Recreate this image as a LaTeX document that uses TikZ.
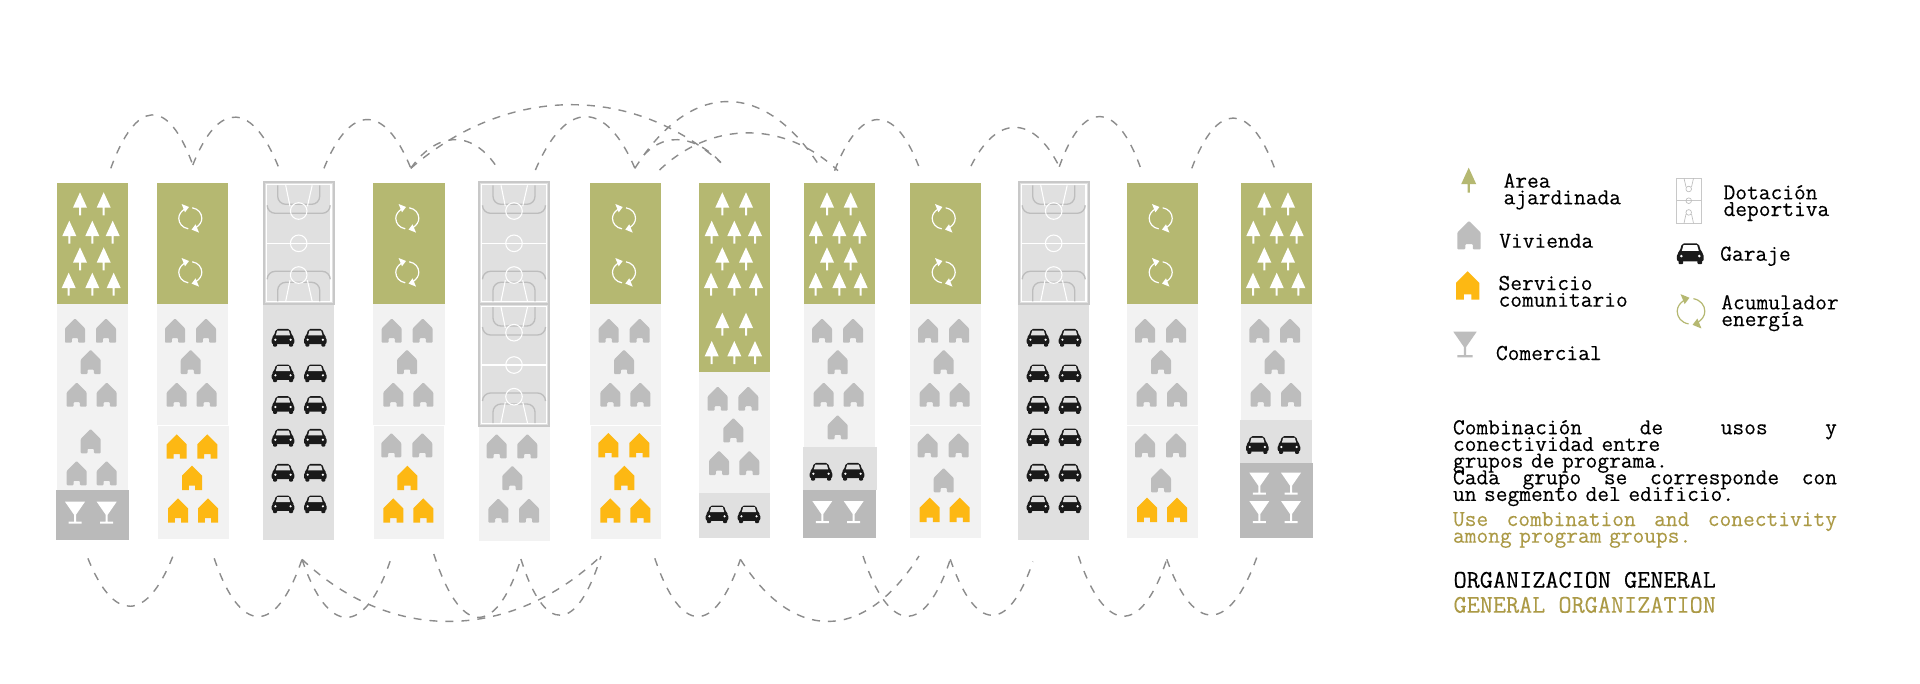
\documentclass[tikz,border=0pt]{standalone}
\usepackage{tikz}
\usepackage{fontspec}
\setmonofont[FakeBold=0.2]{Latin Modern Mono}

\definecolor{verde}{RGB}{181,184,113}
\definecolor{claro}{RGB}{242,242,242}
\definecolor{medio}{RGB}{224,224,224}
\definecolor{oscuro}{RGB}{186,186,186}
\definecolor{gris}{RGB}{189,189,189}
\definecolor{marco}{RGB}{200,200,200}
\definecolor{naranja}{RGB}{253,184,19}
\definecolor{negro}{RGB}{26,26,26}
\definecolor{ocre}{RGB}{172,154,70}
\definecolor{linea}{RGB}{140,140,140}

\AtBeginDocument{\setlength{\lineskiplimit}{-30pt}\setlength{\normallineskiplimit}{-30pt}}

\tikzset{
  every pic/.style={yscale=-1},
  casagris/.style={fill=gris,rounded corners=0.7pt},
  casanaranja/.style={fill=naranja},
  conector/.style={draw=linea,line width=1.05pt,dash pattern=on 6pt off 6pt},
  etiqueta/.style={font=\ttfamily\bfseries\fontsize{17.1}{12.5}\selectfont,anchor=base west,align=left,inner sep=0pt},
  titulo/.style={font=\ttfamily\bfseries\fontsize{19.1}{12.5}\selectfont,anchor=base west,inner sep=0pt},
  pics/arbol/.style={code={
    \fill[#1] (0,0) -- (7,15.3) -- (1,15.3) -- (1,23) -- (-1,23) -- (-1,15.3) -- (-7,15.3) -- cycle;
  }},
  pics/casa/.style={code={
    \path[#1] (-10,0) -- (-10,-14.3) -- (0,-24.3) -- (10,-14.3) -- (10,0) -- (3.2,0) -- (3.2,-4.5) -- (-3.2,-4.5) -- (-3.2,0) -- cycle;
  }},
  pics/copa/.style={code={
    \fill[#1] (-10,0) -- (10,0) -- (1,13) -- (1,20) -- (6.5,20) -- (6.5,22) -- (-6.5,22) -- (-6.5,20) -- (-1,20) -- (-1,13) -- cycle;
  }},
  pics/coche/.style={code={
    \fill[negro,rounded corners=1.5pt] (-11.3,6.5) -- (-11.3,0) -- (-9,-2) -- (-7,-8.8) -- (7,-8.8) -- (9,-2) -- (11.3,0) -- (11.3,6.5) -- cycle;
    \fill[negro,rounded corners=0.8pt] (-10,5) rectangle (-6,8.9);
    \fill[negro,rounded corners=0.8pt] (6,5) rectangle (10,8.9);
    \fill[#1] (-5.8,-7.2) -- (5.8,-7.2) -- (7.2,-2.3) -- (-7.2,-2.3) -- cycle;
    \fill[white] (-7.6,2) circle (1.2);
    \fill[white] (7.6,2) circle (1.2);
  }},
  pics/energia/.style={code={
    \foreach \r in {0,180} {
      \begin{scope}[rotate=\r]
        \draw[#1,line width=0.9pt] (-2,10.5) .. controls (-8,9.5) and (-11.5,5) .. (-11.5,0) .. controls (-11.5,-4) and (-9,-7) .. (-6,-9);
        \fill[#1] (-8.7,-14.3) -- (-1.3,-11.3) -- (-5.3,-6) -- cycle;
      \end{scope}
    }
  }},
  pics/cancha/.style={code={
    \fill[medio] (-35.5,-61.5) rectangle (35.5,61.5);
    \draw[marco,line width=1.6pt] (-35,-61) rectangle (35,61);
    \draw[white,line width=1pt] (-32.3,-58.5) rectangle (32.3,58.5);
    \draw[gris,line width=1pt,rounded corners=6] (-21,-58) -- (-21,-39) -- (21,-39) -- (21,-58);
    \draw[gris,line width=1pt,rounded corners=6] (-31.5,-38) -- (-31.5,-30) -- (31.5,-30) -- (31.5,-38);
    \draw[gris,line width=1pt,rounded corners=6] (-21,58) -- (-21,39) -- (21,39) -- (21,58);
    \draw[gris,line width=1pt,rounded corners=6] (-31.5,36) -- (-31.5,28) -- (31.5,28) -- (31.5,36);
    \draw[white,line width=0.8pt] (-32,0) -- (32,0);
    \draw[white,line width=0.8pt] (0,0) circle (8.3);
    \draw[white,line width=0.8pt] (0,-32.3) circle (8.3);
    \draw[white,line width=0.8pt] (0,31.7) circle (8.3);
    \draw[white,line width=0.8pt] (-13,-58) -- (-8.7,-37);
    \draw[white,line width=0.8pt] (13.5,-58) -- (8.7,-37);
    \draw[white,line width=0.8pt] (-13,58) -- (-8.7,37);
    \draw[white,line width=0.8pt] (13.5,58) -- (8.7,37);
  }}
}

\begin{document}
\begin{tikzpicture}[x=0.75pt,y=0.75pt,yscale=-1,xscale=1]
\path[use as bounding box,fill=white] (0,0) rectangle (1920,683);

%Column 1
\fill[verde] (57,183) rectangle (128.3,304);
\fill[claro] (57,304) rectangle (128.3,490);
\fill[oscuro] (56,490) rectangle (128.7,540);
\foreach \x/\y in {80/192.3,103.7/192.3,69.3/220.7,92.3/220.7,112.7/220.7,80/247.3,103.7/247.3,68.7/272.7,92.3/272.7,113.7/272.7} \pic at (\x,\y) {arbol=white};
\foreach \x/\y in {75/342.7,106/342.7,90.7/374,76.7/406.7,106.7/406.7,90.7/453.3,76.7/485.3,106.7/485.3} \pic at (\x,\y) {casa=casagris};
\foreach \x in {75,106.7} \pic at (\x,501.7) {copa=white};

%Column 2
\fill[verde] (157,183) rectangle (228,304);
\fill[claro] (157,304) rectangle (228,425);
\fill[claro] (158,426) rectangle (229,539);
\foreach \y in {218.3,272.3} \pic at (190.3,\y) {energia=white};
\foreach \x/\y in {175/342.7,206/342.7,190.7/374,176.7/406.7,206.7/406.7} \pic at (\x,\y) {casa=casagris};
\foreach \x/\y in {176.7/458.7,207.3/458.7,192/490,178/522.7,208/522.7} \pic at (\x,\y) {casa=casanaranja};

%Column 3
\fill[medio] (263.3,304) rectangle (334.3,540);
\pic at (298.7,243.3) {cancha};
\foreach \y in {337.7,373.3,405,437.7,472.7,504.3} {
  \pic at (283,\y) {coche=medio};
  \pic at (315.3,\y) {coche=medio};
}

%Column 4
\fill[verde] (373.3,183) rectangle (444.6,304);
\fill[claro] (373.3,304) rectangle (444.6,425);
\fill[claro] (374,426) rectangle (444.3,539);
\foreach \y in {218.3,272.3} \pic at (407.3,\y) {energia=white};
\foreach \x/\y in {391.7/342.7,422.7/342.7,407/374,393.3/406.7,423.3/406.7,391.3/457.3,422.3/457.3} \pic at (\x,\y) {casa=casagris};
\foreach \x/\y in {407.3/490,393.3/522.7,423.3/522.7} \pic at (\x,\y) {casa=casanaranja};

%Column 5
\fill[claro] (478.5,426) rectangle (550,541);
\pic at (514,243.3) {cancha};
\pic at (514,365) {cancha};
\foreach \x/\y in {496.7/458.3,527.3/458.3,512.3/490,498.3/522.7,529/522.7} \pic at (\x,\y) {casa=casagris};

%Column 6
\fill[verde] (590,183) rectangle (661.3,304);
\fill[claro] (590,304) rectangle (661.3,425);
\fill[claro] (590.7,426) rectangle (661,539);
\foreach \y in {218.3,272.3} \pic at (624,\y) {energia=white};
\foreach \x/\y in {608.7/342.7,639.7/342.7,624/374,610.3/406.7,640.3/406.7} \pic at (\x,\y) {casa=casagris};
\foreach \x/\y in {608.3/457.3,639.3/457.3,624.3/490,610.3/522.7,640.3/522.7} \pic at (\x,\y) {casa=casanaranja};

%Column 7
\fill[verde] (699.3,183) rectangle (770.3,372);
\fill[claro] (699.3,372) rectangle (770.3,493);
\fill[medio] (699.3,493) rectangle (770,538);
\foreach \x/\y in {722.3/192.3,746/192.3,711.7/220.7,734.3/220.7,755/220.7,722.3/247.3,746/247.3,711/272.7,734.3/272.7,756/272.7,722.3/312.7,746/312.7,711.7/341,734.3/341,755/341} \pic at (\x,\y) {arbol=white};
\foreach \x/\y in {717.7/410.7,748.3/410.7,733.3/442.3,719/475,749.3/475} \pic at (\x,\y) {casa=casagris};
\foreach \x in {717,749} \pic at (\x,514.3) {coche=medio};

%Column 8
\fill[verde] (804,183) rectangle (875,304);
\fill[claro] (804,304) rectangle (875,447);
\fill[medio] (803.3,447) rectangle (877,490);
\fill[oscuro] (803.3,490) rectangle (875.7,537.5);
\foreach \x/\y in {827/192.3,850.7/192.3,816/220.7,839.3/220.7,859.7/220.7,827/247.3,850.7/247.3,815.7/272.7,839.3/272.7,860.7/272.7} \pic at (\x,\y) {arbol=white};
\foreach \x/\y in {822/342.7,853/342.7,837.7/374,823.7/406.7,853.7/406.7,837.7/439.3} \pic at (\x,\y) {casa=casagris};
\foreach \x in {821,853} \pic at (\x,471.7) {coche=medio};
\foreach \x in {822.3,853.7} \pic at (\x,501) {copa=white};

%Column 9
\fill[verde] (910,183) rectangle (981,304);
\fill[claro] (910,304) rectangle (981,425);
\fill[claro] (910,425.7) rectangle (981,538);
\foreach \y in {218.3,272.3} \pic at (943.7,\y) {energia=white};
\foreach \x/\y in {928/342.7,959/342.7,943.7/374,929.7/406.7,959.7/406.7,927.7/457.3,958.7/457.3,943.7/492.3} \pic at (\x,\y) {casa=casagris};
\foreach \x in {929.7,959.7} \pic at (\x,522) {casa=casanaranja};

%Column 10
\fill[medio] (1018.3,304) rectangle (1089,540);
\pic at (1053.7,243.3) {cancha};
\foreach \y in {337.7,373.3,405,437.3,472.7,504.3} {
  \pic at (1038,\y) {coche=medio};
  \pic at (1070,\y) {coche=medio};
}

%Column 11
\fill[verde] (1127,183) rectangle (1198.3,304);
\fill[claro] (1127,304) rectangle (1198.3,425);
\fill[claro] (1127,425.7) rectangle (1198.3,538);
\foreach \y in {218.3,272.3} \pic at (1160.7,\y) {energia=white};
\foreach \x/\y in {1145/342.7,1176/342.7,1161/374,1146.7/406.7,1177/406.7,1145/457.3,1176/457.3,1161/492.3} \pic at (\x,\y) {casa=casagris};
\foreach \x in {1147,1177} \pic at (\x,522) {casa=casanaranja};

%Column 12
\fill[verde] (1241,183) rectangle (1312.3,304);
\fill[claro] (1241,304) rectangle (1312.3,420);
\fill[medio] (1240,420) rectangle (1312,463);
\fill[oscuro] (1240.3,463) rectangle (1313,537.5);
\foreach \x/\y in {1264.3/192.3,1288/192.3,1253.3/220.7,1276.7/220.7,1296.7/220.7,1264.3/247.3,1288/247.3,1253/272.7,1276.7/272.7,1298.3/272.7} \pic at (\x,\y) {arbol=white};
\foreach \x/\y in {1259.3/342.7,1290/342.7,1274.7/374,1260.7/406.7,1291/406.7} \pic at (\x,\y) {casa=casagris};
\foreach \x in {1257.3,1289} \pic at (\x,445) {coche=medio};
\foreach \x/\y in {1259.3/472.7,1291/472.7,1259.3/501,1291/501} \pic at (\x,\y) {copa=white};

%Arcs above
\coordinate (t1) at (110.8,168.3);
\coordinate (t2) at (192.8,165);
\coordinate (t3) at (279,168.3);
\coordinate (t4) at (324,168.3);
\coordinate (t5) at (410.8,168.3);
\coordinate (t6) at (721,162.7);
\coordinate (t7) at (495.4,165);
\coordinate (t8) at (535.4,170);
\coordinate (t9) at (634.9,168.3);
\coordinate (t10) at (821,168.3);
\coordinate (t11) at (644,155);
\coordinate (t12) at (659.5,170);
\coordinate (t13) at (838,170.7);
\coordinate (t14) at (834.6,170.7);
\coordinate (t15) at (918.6,166);
\coordinate (t16) at (971,166);
\coordinate (t17) at (1059.3,166.7);
\coordinate (t18) at (1140.7,168.3);
\coordinate (t19) at (1191.8,168.3);
\coordinate (t20) at (1274.6,168.3);
\draw[conector] (t1) .. controls +(25,-69) and +(-25,-69) .. (t2);
\draw[conector] (t2) .. controls +(26,-66) and +(-26,-66) .. (t3);
\draw[conector] (t4) .. controls +(26,-65) and +(-26,-65) .. (t5);
\draw[conector] (t5) .. controls +(93,-81) and +(-93,-81) .. (t6);
\draw[conector] (t5) .. controls +(25,-36) and +(-25,-36) .. (t7);
\draw[conector] (t8) .. controls +(30,-70) and +(-30,-70) .. (t9);
\draw[conector] (t9) .. controls +(56,-89) and +(-56,-89) .. (t10);
\draw[conector] (t11) .. controls +(23,-25) and +(-23,-25) .. (t6);
\draw[conector] (t12) .. controls +(53,-50) and +(-53,-50) .. (t13);
\draw[conector] (t14) .. controls +(25,-65) and +(-25,-65) .. (t15);
\draw[conector] (t16) .. controls +(26,-52) and +(-26,-52) .. (t17);
\draw[conector] (t17) .. controls +(24,-68) and +(-24,-68) .. (t18);
\draw[conector] (t19) .. controls +(25,-67) and +(-25,-67) .. (t20);

%Arcs below
\coordinate (b1) at (87.9,558.3);
\coordinate (b2) at (172.7,556.7);
\coordinate (b3) at (214.2,558.3);
\coordinate (b4) at (302,559.3);
\coordinate (b5) at (390.5,560);
\coordinate (b6) at (601,556);
\coordinate (b7) at (433.8,554);
\coordinate (b8) at (520.9,559);
\coordinate (b9) at (654.8,558.3);
\coordinate (b10) at (740.4,559.3);
\coordinate (b11) at (919,556);
\coordinate (b12) at (863,556);
\coordinate (b13) at (950.3,559.3);
\coordinate (b14) at (1032.9,561.7);
\coordinate (b15) at (1078.4,556);
\coordinate (b16) at (1166.8,559.3);
\coordinate (b17) at (1257,556.7);
\draw[conector] (b1) .. controls +(26,65) and +(-26,65) .. (b2);
\draw[conector] (b3) .. controls +(26,77) and +(-26,77) .. (b4);
\draw[conector] (b4) .. controls +(26,77) and +(-26,77) .. (b5);
\draw[conector] (b4) .. controls +(90,85) and +(-90,85) .. (b6);
\draw[conector] (b7) .. controls +(26,81) and +(-26,81) .. (b8);
\draw[conector] (b8) .. controls +(24,77) and +(-24,77) .. (b6);
\draw[conector] (b9) .. controls +(26,77) and +(-26,77) .. (b10);
\draw[conector] (b10) .. controls +(54,85) and +(-54,85) .. (b11);
\draw[conector] (b12) .. controls +(26,78) and +(-26,78) .. (b13);
\draw[conector] (b13) .. controls +(25,73) and +(-25,73) .. (b14);
\draw[conector] (b15) .. controls +(26,78) and +(-26,78) .. (b16);
\draw[conector] (b16) .. controls +(27,76) and +(-27,76) .. (b17);

%Legend icons
\pic[scale=1.08] at (1468.7,167.7) {arbol=verde};
\pic[scale=1.17] at (1469,249.3) {casa=casagris};
\pic[scale=1.17] at (1467.7,299.7) {casa=casanaranja};
\pic[scale=1.17] at (1465,331.7) {copa=gris};
\pic[scale=1.18] at (1690.3,253.7) {coche=white};
\pic[scale=1.2] at (1691,311.3) {energia=verde};
%Legend court
\draw[marco,line width=0.7pt] (1676,178.3) rectangle (1701.5,223.3);
\draw[marco,line width=0.5pt] (1676,200.7) -- (1701.5,200.7);
\draw[gris,line width=0.5pt] (1688.7,200.7) circle (2.8);
\draw[gris,line width=0.5pt] (1688.7,189) circle (2.8);
\draw[gris,line width=0.5pt] (1688.7,212.4) circle (2.8);
\draw[gris,line width=0.5pt] (1684,178.3) -- (1686,187);
\draw[gris,line width=0.5pt] (1693.5,178.3) -- (1691.5,187);
\draw[gris,line width=0.5pt] (1684,223.3) -- (1686,214);
\draw[gris,line width=0.5pt] (1693.5,223.3) -- (1691.5,214);

%Legend texts
\node[etiqueta] (area) at (1503.3,204.3) {Area\\ajardinada};
\node[etiqueta] (vivienda) at (1499,247.7) {Vivienda};
\node[etiqueta] (servicio) at (1498.3,306.7) {Servicio\\comunitario};
\node[etiqueta] (comercial) at (1495.7,360) {Comercial};
\node[etiqueta] (dotacion) at (1723.3,216) {Dotación\\deportiva};
\node[etiqueta] (garaje) at (1720,260.7) {Garaje};
\node[etiqueta] (acumulador) at (1721,326) {Acumulador\\energía};

%Notes
\node[etiqueta,text width=288pt] (nota) at (1452.7,434.3) {Combinación\hfill de\hfill usos\hfill y\\conectividad entre\\grupos de programa.\\Cada\hfill grupo\hfill se\hfill corresponde\hfill con\\un segmento del edificio.};
\node[etiqueta,text width=288pt,text=ocre] (notaen) at (1452.7,526) {Use\hfill combination\hfill and\hfill conectivity\\among program groups.};
\node[titulo] (organizacion) at (1453.3,587.7) {ORGANIZACION GENERAL};
\node[titulo,text=ocre] (general) at (1453.3,612.7) {GENERAL ORGANIZATION};

\end{tikzpicture}
\end{document}
